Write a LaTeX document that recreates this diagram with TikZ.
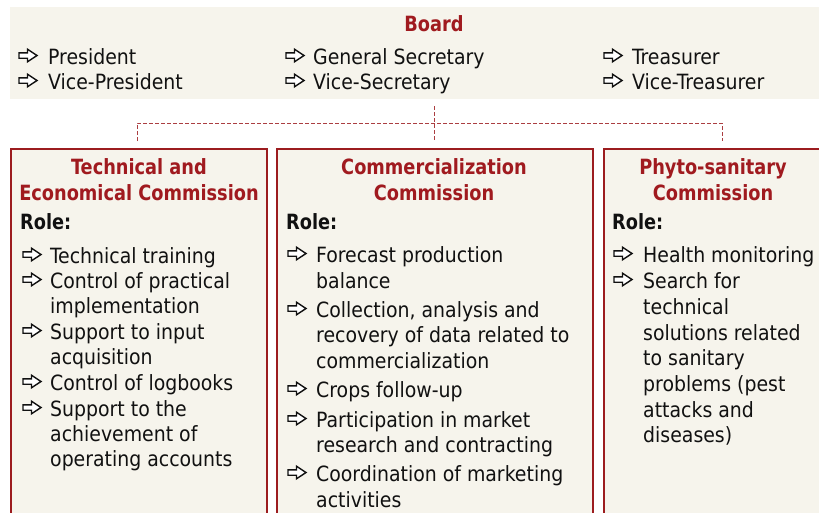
\documentclass[tikz,border=0pt]{standalone}
\usepackage{fontspec}
\setmainfont{DejaVu Sans Condensed}[BoldFeatures={FakeStretch=0.94}]
\definecolor{beige}{HTML}{F6F4EC}
\definecolor{darkred}{HTML}{A01A1F}
\definecolor{boxred}{HTML}{9C1C1F}
\definecolor{ink}{HTML}{111111}
\begin{document}
\begin{tikzpicture}[x=1pt,y=-1pt,
  txt/.style={anchor=base west,inner sep=0pt,font=\fontsize{21}{25}\selectfont,text=ink},
  ttl/.style={anchor=base,inner sep=0pt,font=\fontsize{21}{25}\selectfont\bfseries,text=darkred},
  role/.style={txt,font=\fontsize{21}{25}\selectfont\bfseries},
  commbox/.style={draw=boxred,line width=2.5pt,fill=beige},
  link/.style={draw=boxred!85!white,line width=1pt,dash pattern=on 4pt off 2pt},
  warr/.pic={\draw[line width=1.4pt,draw=ink,fill=white,line join=miter]
     (0,-2.7) -- (8.5,-2.7) -- (8.5,-6.3) -- (18,0) -- (8.5,6.3) -- (8.5,2.7) -- (0,2.7) -- cycle;}]
\useasboundingbox[fill=white] (0,0) rectangle (819,512);
\clip (0,0) rectangle (819,512);
% board
\fill[beige] (10,7) rectangle (830,99);
\node[ttl] (board) at (434,31) {Board};
\pic (b1a) at (19,64-8.5) {warr}; \node[txt] (b1) at (48,64) {President};
\pic (b2a) at (19,89-8.5) {warr}; \node[txt] (b2) at (48,89) {Vice-President};
\pic (b3a) at (286,64-8.5) {warr}; \node[txt] (b3) at (313,64) {General Secretary};
\pic (b4a) at (286,89-8.5) {warr}; \node[txt] (b4) at (313,89) {Vice-Secretary};
\pic (b5a) at (604,64-8.5) {warr}; \node[txt] (b5) at (632,64) {Treasurer};
\pic (b6a) at (604,89-8.5) {warr}; \node[txt] (b6) at (632,89) {Vice-Treasurer};
% connectors
\coordinate (top) at (434,106);
\coordinate (mid) at (434,123);
\coordinate (c1) at (137,123);
\coordinate (c3) at (722,123);
\coordinate (e1) at (137,141);
\coordinate (e2) at (434,141);
\coordinate (e3) at (722,141);
\draw[link] (top) -- (e2);
\draw[link] (e1) -- (c1) -- (c3) -- (e3);
% boxes
\draw[commbox] (11,149) rectangle (267,540);
\draw[commbox] (277,149) rectangle (593,540);
\draw[commbox] (604,149) rectangle (840,540);
% box 1
\node[ttl] (t1a) at (139,174) {Technical and};
\node[ttl] (t1b) at (139,200) {Economical Commission};
\node[role] (r1) at (20,229) {Role:};
\foreach \yy/\txtx/\aa [count=\i] in {263/{Technical training}/1, 288/{Control of practical}/1, 313/{implementation}/0, 339/{Support to input}/1, 364/{acquisition}/0, 390/{Control of logbooks}/1, 416/{Support to the}/1, 441/{achievement of}/0, 466/{operating accounts}/0}{
  \node[txt] (p\i) at (50,\yy) {\txtx};
  \ifnum\aa=1 \pic (pa\i) at (23,\yy-8.5) {warr}; \fi
}
% box 2
\node[ttl] (t2a) at (434,174) {Commercialization};
\node[ttl] (t2b) at (434,200) {Commission};
\node[role] (r2) at (286,229) {Role:};
\foreach \yy/\txtx/\aa [count=\i] in {262/{Forecast production}/1, 288/{balance}/0, 317/{Collection, analysis and}/1, 342/{recovery of data related to}/0, 368/{commercialization}/0, 397/{Crops follow-up}/1, 427/{Participation in market}/1, 452/{research and contracting}/0, 481/{Coordination of marketing}/1, 507/{activities}/0}{
  \node[txt] (q\i) at (316,\yy) {\txtx};
  \ifnum\aa=1 \pic (qa\i) at (288,\yy-8.5) {warr}; \fi
}
% box 3
\node[ttl] (t3a) at (713,174) {Phyto-sanitary};
\node[ttl] (t3b) at (713,200) {Commission};
\node[role] (r3) at (612,229) {Role:};
\foreach \yy/\txtx/\aa [count=\i] in {262/{Health monitoring}/1, 288/{Search for}/1, 314/{technical}/0, 340/{solutions related}/0, 365/{to sanitary}/0, 391/{problems (pest}/0, 417/{attacks and}/0, 442/{diseases)}/0}{
  \node[txt] (s\i) at (643,\yy) {\txtx};
  \ifnum\aa=1 \pic (sa\i) at (614,\yy-8.5) {warr}; \fi
}
\end{tikzpicture}
\end{document}
